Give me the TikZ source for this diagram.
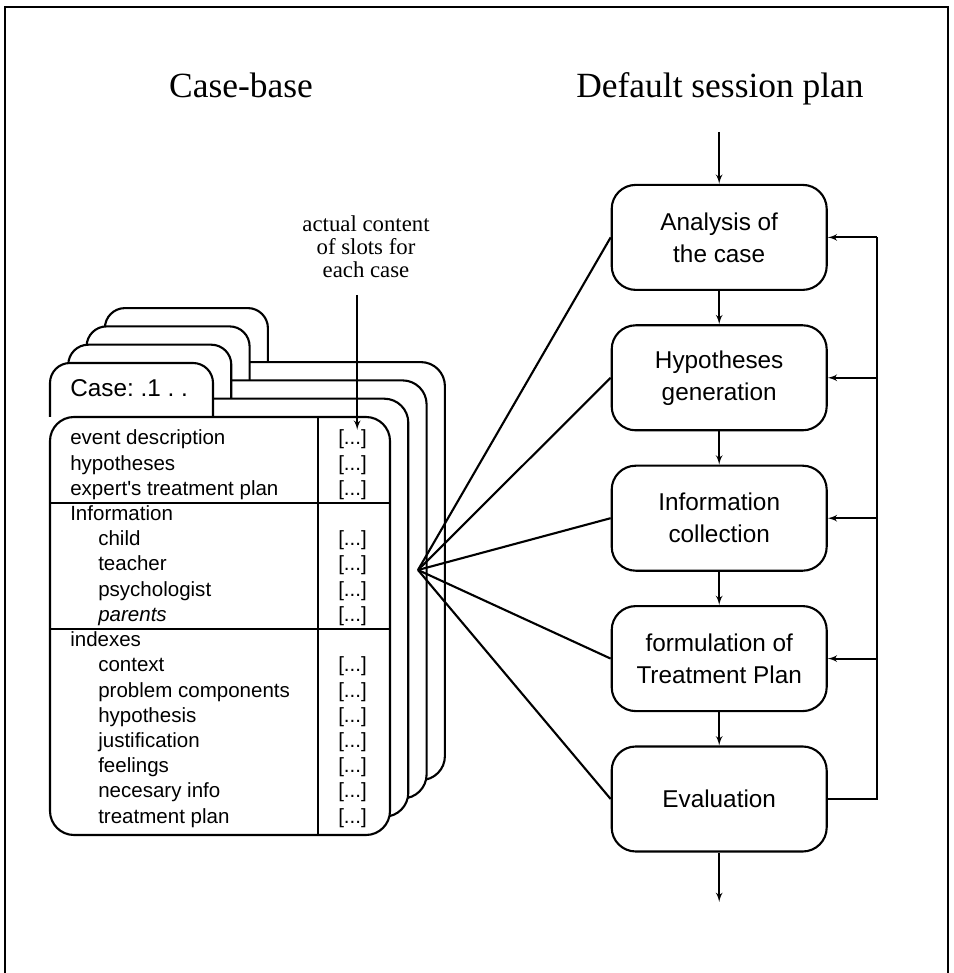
\documentclass[tikz,border=0pt]{standalone}
\usepackage{fontspec}
\setmainfont{Liberation Serif}
\setsansfont{Liberation Sans}
\usepackage{tikz}
\usetikzlibrary{arrows}
\frenchspacing
\tikzstyle{stage} = [draw,line width=1.5pt,rounded corners=0.6cm,minimum width=5.375cm,minimum height=2.625cm,align=center,font=\sffamily\fontsize{17.3}{22.7}\selectfont]
\tikzstyle{cardtab} = [draw,fill=white,line width=1.5pt,rounded corners=0.5cm]
\tikzstyle{cardbody} = [draw,fill=white,line width=1.5pt,rounded corners=0.6cm]
\tikzstyle{heading} = [anchor=base,font=\fontsize{25.2}{30}\selectfont]
\tikzstyle{note} = [anchor=south,inner sep=0pt,align=center,font=\fontsize{16.2}{16.4}\selectfont]
\tikzstyle{casetitle} = [anchor=base west,inner sep=0pt,font=\sffamily\fontsize{17.3}{21}\selectfont]
\tikzstyle{slotname} = [anchor=base west,inner sep=0pt,font=\sffamily\fontsize{14.6}{18}\selectfont]
\tikzstyle{slotval} = [slotname]
\tikzstyle{wire} = [line width=1.3pt]

\begin{document}
\begin{tikzpicture}[>=latex']

\useasboundingbox (0,0) rectangle (23.85,24.325);

% Frame and headings

    \draw[line width=1.6pt] (0.125,0) -- (0.125,24.15) -- (23.7,24.15) -- (23.7,0);
    \node[heading] at (6.025,21.875) (casebase) {Case-base};
    \node[heading] at (18.0,21.875) (plan) {Default session plan};

% Stack of cases, back to front

    \def\off{0.4575}
    \begin{scope}[shift={(3*\off,3*\off)}]
      \draw[cardtab] (1.25,13.9) -- (1.25,15.25) -- (5.325,15.25) -- (5.325,13.9);
      \draw[cardbody] (1.25,3.45) rectangle (9.75,13.9);
    \end{scope}
    \begin{scope}[shift={(2*\off,2*\off)}]
      \draw[cardtab] (1.25,13.9) -- (1.25,15.25) -- (5.325,15.25) -- (5.325,13.9);
      \draw[cardbody] (1.25,3.45) rectangle (9.75,13.9);
    \end{scope}
    \begin{scope}[shift={(1*\off,1*\off)}]
      \draw[cardtab] (1.25,13.9) -- (1.25,15.25) -- (5.325,15.25) -- (5.325,13.9);
      \draw[cardbody] (1.25,3.45) rectangle (9.75,13.9);
    \end{scope}
    \draw[cardtab] (1.25,13.9) -- (1.25,15.25) -- (5.325,15.25) -- (5.325,13.9);
    \draw[cardbody] (1.25,3.45) rectangle (9.75,13.9);
    \draw[wire] (7.95,13.9) -- (7.95,3.45);
    \draw[wire] (1.25,11.75) -- (9.75,11.75);
    \draw[wire] (1.25,8.6) -- (9.75,8.6);

    \node[casetitle] at (1.75,14.4) (casename) {Case: .1 . .};

% Slots of the front case

    \def\row{0.63}
    \node[slotname] at (1.75,13.2-0*\row) (event) {event description};
    \node[slotname] at (1.75,13.2-1*\row) (hyps) {hypotheses};
    \node[slotname] at (1.75,13.2-2*\row) (expert) {expert\textquotesingle s treatment plan};
    \node[slotname] at (1.75,13.2-3*\row) (info) {Information};
    \node[slotname] at (2.45,13.2-4*\row) (child) {child};
    \node[slotname] at (2.45,13.2-5*\row) (teacher) {teacher};
    \node[slotname] at (2.45,13.2-6*\row) (psych) {psychologist};
    \node[slotname] at (2.45,13.2-7*\row) (parents) {\itshape parents};
    \node[slotname] at (1.75,13.2-8*\row) (indexes) {indexes};
    \node[slotname] at (2.45,13.2-9*\row) (context) {context};
    \node[slotname] at (2.45,13.2-10*\row) (probcomp) {problem components};
    \node[slotname] at (2.45,13.2-11*\row) (hypothesis) {hypothesis};
    \node[slotname] at (2.45,13.2-12*\row) (justif) {justification};
    \node[slotname] at (2.45,13.2-13*\row) (feelings) {feelings};
    \node[slotname] at (2.45,13.2-14*\row) (necinfo) {necesary info};
    \node[slotname] at (2.45,13.2-15*\row) (treat) {treatment plan};

    \node[slotval] at (8.45,13.2-0*\row) (slot1) {[...]};
    \node[slotval] at (8.45,13.2-1*\row) (slot2) {[...]};
    \node[slotval] at (8.45,13.2-2*\row) (slot3) {[...]};
    \node[slotval] at (8.45,13.2-4*\row) (slot4) {[...]};
    \node[slotval] at (8.45,13.2-5*\row) (slot5) {[...]};
    \node[slotval] at (8.45,13.2-6*\row) (slot6) {[...]};
    \node[slotval] at (8.45,13.2-7*\row) (slot7) {[...]};
    \node[slotval] at (8.45,13.2-9*\row) (slot8) {[...]};
    \node[slotval] at (8.45,13.2-10*\row) (slot9) {[...]};
    \node[slotval] at (8.45,13.2-11*\row) (slot10) {[...]};
    \node[slotval] at (8.45,13.2-12*\row) (slot11) {[...]};
    \node[slotval] at (8.45,13.2-13*\row) (slot12) {[...]};
    \node[slotval] at (8.45,13.2-14*\row) (slot13) {[...]};
    \node[slotval] at (8.45,13.2-15*\row) (slot14) {[...]};

    \node[note] at (9.15,17.375) (slotnote) {actual content\\of slots for\\each case};
    \coordinate (notefoot) at (8.93,16.95);
    \draw[->, wire] (notefoot) -- (notefoot |- slot1.north);

% Session plan

    \def\sp{3.51}
    \node[stage] at (17.98,18.39-0*\sp) (analysis) {Analysis of\\the case};
    \node[stage] at (17.98,18.39-1*\sp) (hypgen) {Hypotheses\\generation};
    \node[stage] at (17.98,18.39-2*\sp) (infocoll) {Information\\collection};
    \node[stage] at (17.98,18.39-3*\sp) (formul) {formulation of\\Treatment Plan};
    \node[stage] at (17.98,18.39-4*\sp) (evaluation) {Evaluation};
    \coordinate (start) at (17.98,21.03);
    \coordinate (finish) at (17.98,1.775);
    \coordinate (loop) at (21.925,0);

    \draw[->, wire] (start) -- (analysis);
    \draw[->, wire] (analysis) -- (hypgen);
    \draw[->, wire] (hypgen) -- (infocoll);
    \draw[->, wire] (infocoll) -- (formul);
    \draw[->, wire] (formul) -- (evaluation);
    \draw[->, wire] (evaluation) -- (finish);

    \draw[wire] (evaluation.east) -- (evaluation.east -| loop) -- (analysis.east -| loop);
    \draw[->, wire] (analysis.east -| loop) -- (analysis.east);
    \draw[->, wire] (hypgen.east -| loop) -- (hypgen.east);
    \draw[->, wire] (infocoll.east -| loop) -- (infocoll.east);
    \draw[->, wire] (formul.east -| loop) -- (formul.east);

% Case linked to every stage

    \coordinate (fan) at (10.45,10.075);
    \draw[line width=1.5pt] (fan) -- (analysis.west);
    \draw[line width=1.5pt] (fan) -- (hypgen.west);
    \draw[line width=1.5pt] (fan) -- (infocoll.west);
    \draw[line width=1.5pt] (fan) -- (formul.west);
    \draw[line width=1.5pt] (fan) -- (evaluation.west);

\end{tikzpicture}
\end{document}
